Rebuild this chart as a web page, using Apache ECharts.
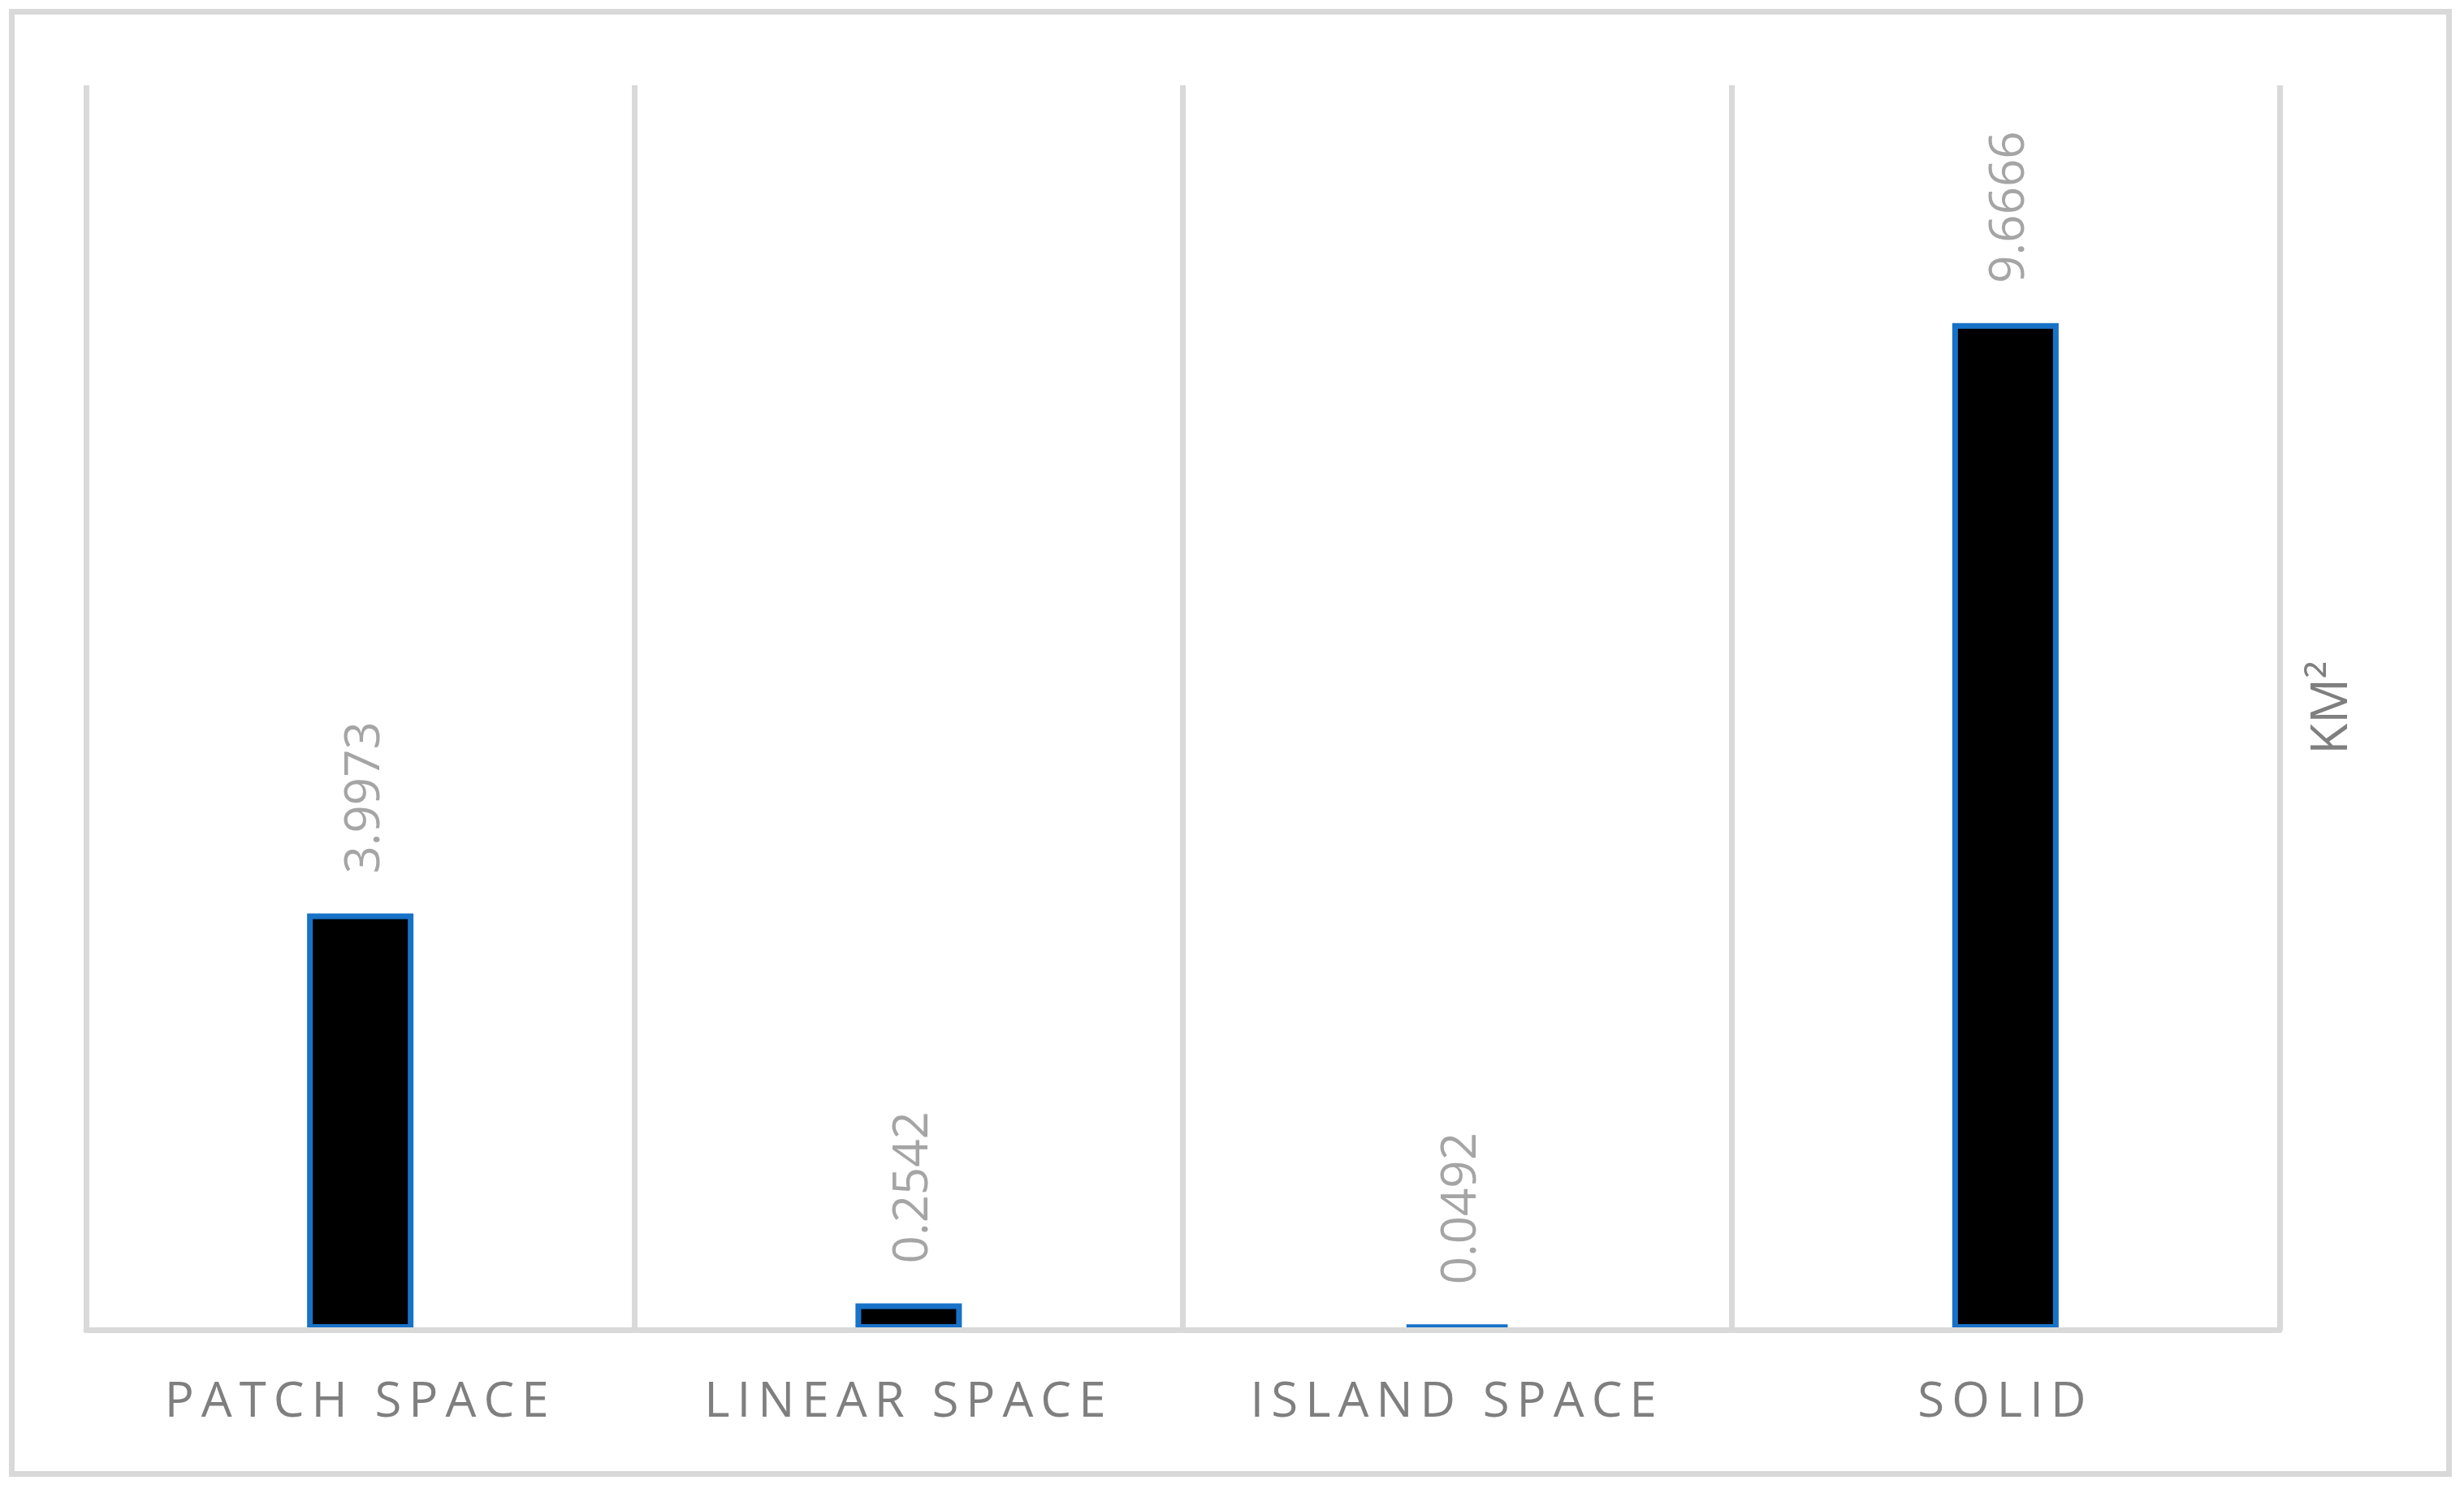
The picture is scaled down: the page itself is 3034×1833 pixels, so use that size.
<!DOCTYPE html>
<html>
<head>
<meta charset="utf-8">
<script src="https://cdn.jsdelivr.net/npm/echarts@6/dist/echarts.min.js"></script>
<style>
  html, body { margin: 0; padding: 0; background: #fff; }
  #chart { position: absolute; left: 0; top: 0; width: 3034px; height: 1833px; }
  #frame {
    position: absolute; left: 11px; top: 11px; width: 3008px; height: 1807px;
    box-sizing: border-box; border: 7px solid #d9d9d9; pointer-events: none;
  }
</style>
</head>
<body>
<div id="chart"></div>
<div id="frame"></div>
<script>
// data
const categories = ["PATCH SPACE", "LINEAR SPACE", "ISLAND SPACE", "SOLID"];
const areaValues = [3.9973, 0.2542, 0.0492, 9.6666];
const unitName = "KM²";

const fontFamily = "'Open Sans'";

const renderBarChart = () => {
  const chart = echarts.init(document.getElementById("chart"), null, { renderer: "svg" });

  const option = {
    animation: false,
    backgroundColor: "#ffffff",
    grid: { left: 106, right: 227, top: 105, bottom: 196 },
    xAxis: {
      type: "category",
      data: categories,
      z: 3,
      axisLine: { lineStyle: { color: "#d9d9d9", width: 7 } },
      axisTick: { show: false },
      splitLine: { show: true, lineStyle: { color: "#d9d9d9", width: 7 } },
      axisLabel: {
        interval: 0,
        margin: 54,
        color: "#7f7f7f",
        fontSize: 60,
        fontFamily: fontFamily,
      },
    },
    yAxis: {
      type: "value",
      position: "right",
      min: 0,
      max: 11.95,
      name: unitName,
      nameLocation: "middle",
      nameRotate: 90,
      nameGap: 28,
      nameTextStyle: { color: "#7f7f7f", fontSize: 62, fontFamily: fontFamily },
      axisLine: { show: false },
      axisTick: { show: false },
      axisLabel: { show: false },
      splitLine: { show: false },
    },
    series: [
      {
        type: "bar",
        data: areaValues,
        barWidth: 131,
        itemStyle: { color: "#000000", borderColor: "#1872c8", borderWidth: 7 },
        label: {
          show: true,
          position: "top",
          rotate: 90,
          align: "left",
          verticalAlign: "middle",
          distance: 49,
          color: "#a5a5a5",
          fontSize: 60,
          fontFamily: fontFamily,
        },
      },
    ],
  };

  chart.setOption(option);

  // wide letter spacing on the category labels, like the original
  const spaceLabels = () => {
    document.querySelectorAll("#chart text").forEach((t) => {
      if (categories.includes(t.textContent)) {
        t.setAttribute("letter-spacing", "9");
      }
    });
  };
  spaceLabels();
  chart.on("finished", spaceLabels);
};

document.addEventListener("DOMContentLoaded", renderBarChart);
</script>
</body>
</html>
